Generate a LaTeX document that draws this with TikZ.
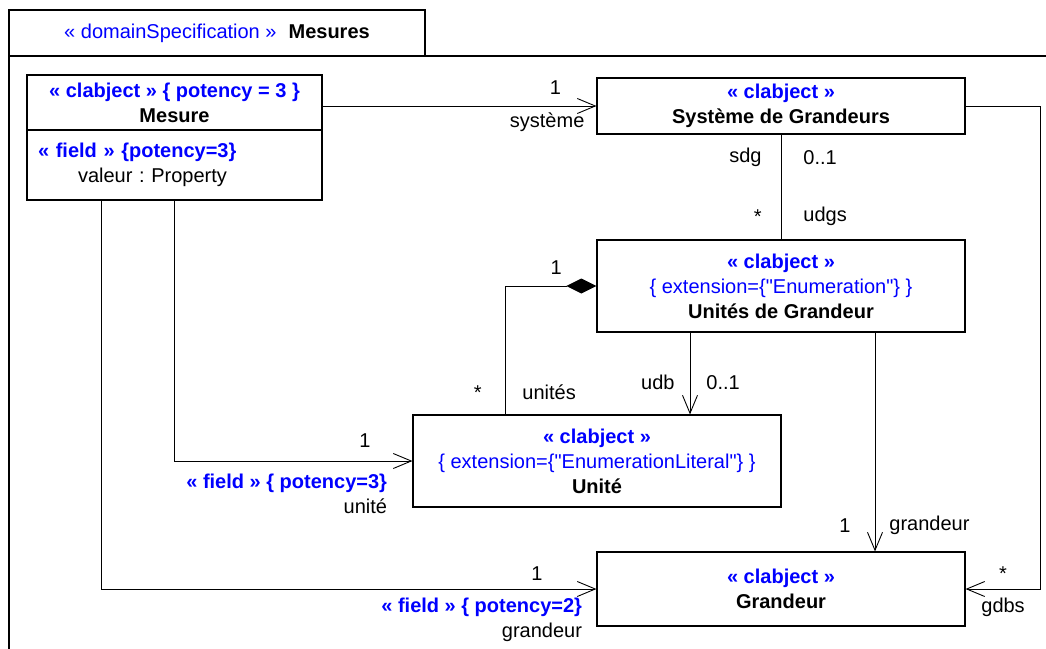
\documentclass[tikz,border=0pt]{standalone}
\usepackage{fontspec}
\setmainfont{Liberation Sans}[Ligatures=TeXOff]
\usetikzlibrary{arrows.meta, shapes, positioning}
\definecolor{umlblue}{RGB}{0,0,255}
\newcommand{\stereo}[1]{\textcolor{umlblue}{\textbf{#1}}}
\frenchspacing

\begin{document}
\begin{tikzpicture}[x=1pt, y=-1pt, on grid, font=\fontsize{20}{25}\selectfont,
	classbox/.style={draw, line width=1.1pt, align=center, minimum width=368pt, inner sep=0pt},
	link/.style={line width=0.9pt},
	assoc/.style={line width=0.9pt, -{Straight Barb[length=18pt, width=15pt]}},
	compo/.style={line width=0.9pt, {Diamond[length=30pt, width=15pt]}-},
	lbl/.style={inner sep=1pt}]
	\useasboundingbox (0,0) rectangle (1046,648);
	\clip (0,0) rectangle (1046,648);
	
	% package frame
	\draw[link, line width=1.1pt] (9,700) -- (9,56) -- (1100,56);
	\node[draw, line width=1.1pt, minimum width=416pt, minimum height=46pt] (pkg) at (217,33) {\textcolor{umlblue}{« domainSpecification »}\hspace{12pt}\textbf{Mesures}};
	
	\node[classbox, minimum width=295pt, minimum height=55pt] (mes) at (174.5,102.5) {\stereo{« clabject » \{ potency = 3 \}}\\ \textbf{Mesure}};
	\node[classbox, minimum width=295pt, minimum height=70pt, align=left, text width=273pt, below=62.5pt of mes] (mesattr) {\stereo{« field » \{potency=3\}}\\ \hspace*{40pt}valeur : Property};
	
	\node[classbox, minimum height=56pt] (sdg) at (781,106) {\stereo{« clabject »}\\ \textbf{Système de Grandeurs}};
	\node[classbox, minimum height=92pt, below=180pt of sdg] (udg) {\stereo{« clabject »}\\ \textcolor{umlblue}{\{ extension=\{"Enumeration"\} \}}\\ \textbf{Unités de Grandeur}};
	\node[classbox, minimum height=92pt, below left=175pt and 184pt of udg] (ute) {\stereo{« clabject »}\\ \textcolor{umlblue}{\{ extension=\{"EnumerationLiteral"\} \}}\\ \textbf{Unité}};
	\node[classbox, minimum height=74pt, below=303pt of udg] (gdr) {\stereo{« clabject »}\\ \textbf{Grandeur}};
	
	\draw[assoc] (mes.east |- sdg.west) -- (sdg.west)
		node[lbl, pos=0.85, above=10pt] {1}
		node[lbl, pos=0.82, below=5pt] {système};
	
	\draw[link] (sdg) -- (udg)
		node[lbl, pos=0.22, left=18pt] {sdg}
		node[lbl, pos=0.22, right=21pt] {0..1}
		node[lbl, pos=0.78, left=18pt] {*}
		node[lbl, pos=0.78, right=21pt] {udgs};
	
	\draw[compo] (udg.west) -| ([xshift=-92pt]ute.north)
		node[lbl, pos=0.22, above=10pt] {1}
		node[lbl, pos=0.915, left=22pt] {*}
		node[lbl, pos=0.915, right=16pt] {unités};
	
	\draw[assoc] ([xshift=-91pt]udg.south) -- ([xshift=-91pt]udg.south |- ute.north)
		node[lbl, pos=0.61, left=14pt] {udb}
		node[lbl, pos=0.61, right=15pt] {0..1};
	
	\draw[assoc] ([xshift=94pt]udg.south) -- ([xshift=94pt]udg.south |- gdr.north)
		node[lbl, pos=0.88, left=23pt] {1}
		node[lbl, pos=0.88, right=13pt] {grandeur};
	
	\draw[assoc] (sdg.east) -| ([xshift=75pt]gdr.east) -- (gdr.east)
		node[lbl, pos=0.5, above=7pt] {*}
		node[lbl, pos=0.5, below=8pt] {gdbs};
	
	\draw[assoc] (mesattr.south) |- (ute.west)
		node[lbl, pos=0.9, above=12pt] {1}
		node[lbl, pos=1, below left=12pt and 24pt, align=right] {\stereo{« field » \{ potency=3\}}\\ unité};
	
	\draw[assoc] ([xshift=-73.5pt]mesattr.south) |- (gdr.west)
		node[lbl, pos=0.94, above=7pt] {1}
		node[lbl, pos=1, below left=7.5pt and 13pt, align=right] {\stereo{« field » \{ potency=2\}}\\ grandeur};
\end{tikzpicture}
\end{document}
